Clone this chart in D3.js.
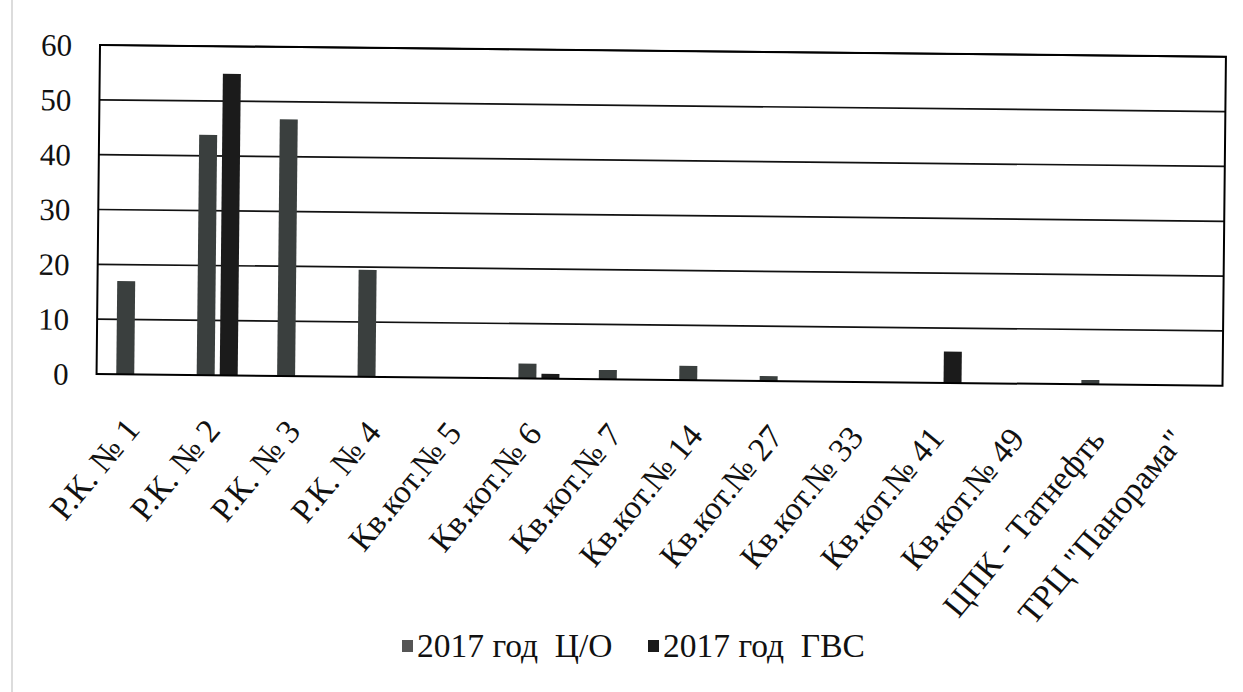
<!DOCTYPE html>
<html>
<head>
<meta charset="utf-8">
<script src="https://cdn.jsdelivr.net/npm/d3@7"></script>
<style>
    body { margin: 0; background: #fff; }
    text { font-family: "Liberation Serif", "Times New Roman", serif; fill: #111; }
</style>
</head>
<body>
<div class="chart"></div>
<script>
const categories = ['Р.К. № 1', 'Р.К. № 2', 'Р.К. № 3', 'Р.К. № 4', 'Кв.кот.№ 5', 'Кв.кот.№ 6', 'Кв.кот.№ 7',
    'Кв.кот.№ 14', 'Кв.кот.№ 27', 'Кв.кот.№ 33', 'Кв.кот.№ 41', 'Кв.кот.№ 49', 'ЦПК - Татнефть', 'ТРЦ "Панорама"']
const seriesNames = ['2017 год  Ц/О', '2017 год  ГВС']
const valuesCO = [17, 43.8, 46.8, 19.5, 0, 2.7, 1.7, 2.6, 0.9, 0, 0, 0, 0.8, 0]
const valuesGVS = [0, 55, 0, 0, 0, 0.9, 0, 0, 0, 0, 5.7, 0, 0, 0]
const yTicks = [0, 10, 20, 30, 40, 50, 60]
const colors = ['#3a3f3e', '#1b1b1b']

const width = 1243,
    height = 692
const plot = { left: 100, top: 45, w: 1126, h: 329 }
// скан слегка повернут
const tilt = 0.6

const data = categories.map((c, i) => ({ cat: c, vals: [valuesCO[i], valuesGVS[i]] }))

const svg = d3.select('.chart').append('svg')
    .attr('width', width)
    .attr('height', height)

// край листа
svg.append('line')
    .attr('x1', 12).attr('x2', 12).attr('y1', 0).attr('y2', height)
    .style('stroke', '#dcdcdc').style('stroke-width', 2)

const g = svg.append('g')
    .attr('transform', `rotate(${tilt}, ${plot.left}, ${plot.top}) translate(${plot.left}, ${plot.top})`)

const x0 = d3.scaleBand()
    .domain(categories)
    .range([0, plot.w])
    .paddingInner(0.49)
    .paddingOuter(0.245)

const x1 = d3.scaleBand()
    .domain([0, 1])
    .range([0, x0.bandwidth()])
    .paddingInner(0.22)

const y = d3.scaleLinear()
    .domain([0, 60])
    .range([plot.h, 0])

// сетка
g.selectAll('.grid')
    .data(yTicks.slice(1))
    .enter().append('line')
    .attr('class', 'grid')
    .attr('x1', 0)
    .attr('x2', plot.w)
    .attr('y1', d => y(d))
    .attr('y2', d => y(d))
    .style('stroke', '#111')
    .style('stroke-width', 1.7)

// столбцы
const grp = g.selectAll('.grp')
    .data(data)
    .enter().append('g')
    .attr('class', 'grp')
    .attr('transform', d => `translate(${x0(d.cat)},0)`)

grp.selectAll('rect')
    .data(d => d.vals.map((v, i) => ({ v: v, i: i })))
    .enter().append('rect')
    .attr('x', d => x1(d.i))
    .attr('width', x1.bandwidth())
    .attr('y', d => y(d.v))
    .attr('height', d => y(0) - y(d.v))
    .style('fill', d => colors[d.i])

// рамка
g.append('rect')
    .attr('x', 0).attr('y', 0)
    .attr('width', plot.w).attr('height', plot.h)
    .style('fill', 'none')
    .style('stroke', '#000')
    .style('stroke-width', 2)

// ось Y
const yAxis = g.append('g')
    .call(d3.axisLeft(y).tickValues(yTicks).tickSize(0).tickPadding(28))
yAxis.select('.domain').remove()
yAxis.selectAll('text')
    .style('font-size', '31px')
    .style('font-family', '"Liberation Serif", serif')
    .style('fill', '#111')
    .attr('dy', '0.34em')

// подписи категорий
g.selectAll('.xlab')
    .data(categories)
    .enter().append('text')
    .attr('class', 'xlab')
    .attr('transform', d => `translate(${x0(d) + x0.bandwidth() / 2 + 5}, ${plot.h + 56}) rotate(-51)`)
    .style('text-anchor', 'end')
    .style('font-size', '33.5px')
    .text(d => d)

// легенда
const legend = svg.append('g')
    .attr('class', 'legend')
const lx = [402, 648]
const lg = legend.selectAll('.legenda')
    .data(seriesNames)
    .enter().append('g')
    .attr('class', 'legenda')
    .attr('transform', (d, i) => `translate(${lx[i]}, 640)`)
lg.append('rect')
    .attr('width', 11)
    .attr('height', 12)
    .style('fill', (d, i) => i === 0 ? '#555' : '#1b1b1b')
lg.append('text')
    .attr('x', 15)
    .attr('y', 17)
    .style('font-size', '33.5px')
    .attr('xml:space', 'preserve')
    .text(d => d)
</script>
</body>
</html>
